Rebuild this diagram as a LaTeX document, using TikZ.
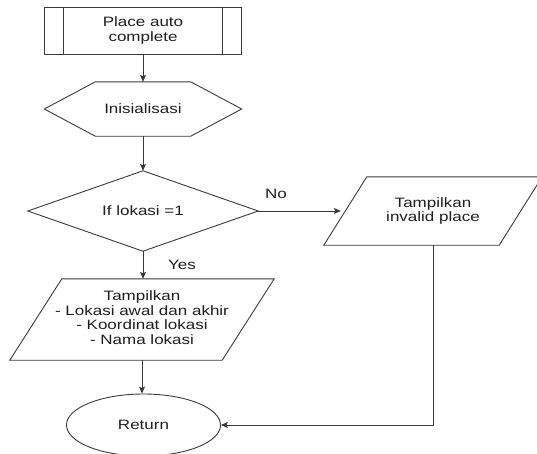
\documentclass[tikz,border=0pt]{standalone}
\usepackage{fontspec}
\setmainfont{Liberation Sans}[FakeStretch=1.25]
\usetikzlibrary{shapes.geometric,arrows.meta}

\definecolor{edge}{HTML}{3A3A3A}
\definecolor{ink}{HTML}{1E1E1E}

\tikzset{
  txt/.style={text=ink, inner sep=0pt, align=center, font=\fontsize{13.6}{14.7}\selectfont},
  outline/.style={draw=edge, line width=0.9pt},
  procbox/.style={txt, outline, rectangle, minimum width=197pt, minimum height=47pt},
  area/.style={txt, rectangle},
  term/.style={txt, outline, ellipse},
  link/.style={draw=edge, line width=0.9pt},
  arr/.style={link, -{Stealth[length=7pt,width=6pt,inset=1.5pt]}},
}

\begin{document}
\begin{tikzpicture}[x=1pt,y=-1pt]
  \clip (0,0) rectangle (537,453);

  % predefined process: start of the routine
  \node[procbox] (proc) at (143,30.5) {Place auto\\complete};
  \draw[link] ([xshift=19.5pt]proc.north west) -- ([xshift=19.5pt]proc.south west);
  \draw[link] ([xshift=-19.5pt]proc.north east) -- ([xshift=-19.5pt]proc.south east);

  % preparation (hexagon)
  \node[area, minimum width=197pt, minimum height=54pt] (init) at (143,109) {Inisialisasi};
  \draw[outline] (init.west) -- ([xshift=51pt]init.north west) -- ([xshift=-51pt]init.north east)
    -- (init.east) -- ([xshift=-51pt]init.south east) -- ([xshift=51pt]init.south west) -- cycle;

  % decision (diamond)
  \node[area, minimum width=230pt, minimum height=80pt] (cond) at (143,211) {If lokasi =1};
  \draw[outline] (cond.west) -- (cond.north) -- (cond.east) -- (cond.south) -- cycle;

  % output: found location
  \node[area, minimum width=264pt, minimum height=81pt] (show) at (142,319.5)
    {\raisebox{3pt}{\begin{tabular}{@{}c@{}}Tampilkan\\- Lokasi awal dan akhir\\- Koordinat lokasi\\- Nama lokasi\end{tabular}}};
  \draw[outline] ([xshift=52pt]show.north west) -- (show.north east)
    -- ([xshift=-52pt]show.south east) -- (show.south west) -- cycle;

  % output: invalid place
  \node[area, minimum width=218pt, minimum height=68pt] (invalid) at (433,211)
    {Tampilkan\\invalid place};
  \draw[outline] ([xshift=43pt]invalid.north west) -- (invalid.north east)
    -- ([xshift=-43pt]invalid.south east) -- (invalid.south west) -- cycle;

  % terminator
  \node[term, minimum width=154pt, minimum height=62pt] (ret) at (143.5,425) {Return};

  % branch labels
  \node[txt] (no) at (276,194) {No};
  \node[txt] (yes) at (182,265) {Yes};

  % connectors
  \draw[arr] (proc) -- (init);
  \draw[arr] (init) -- (cond);
  \draw[arr] (cond.east) -- ([xshift=17pt]invalid.west);
  \draw[arr] (cond.south) -- (cond.south |- show.north);
  \draw[arr] (show.south) -- (show.south |- ret.north);
  \draw[arr] (invalid.south) |- (ret.east);
\end{tikzpicture}
\end{document}
